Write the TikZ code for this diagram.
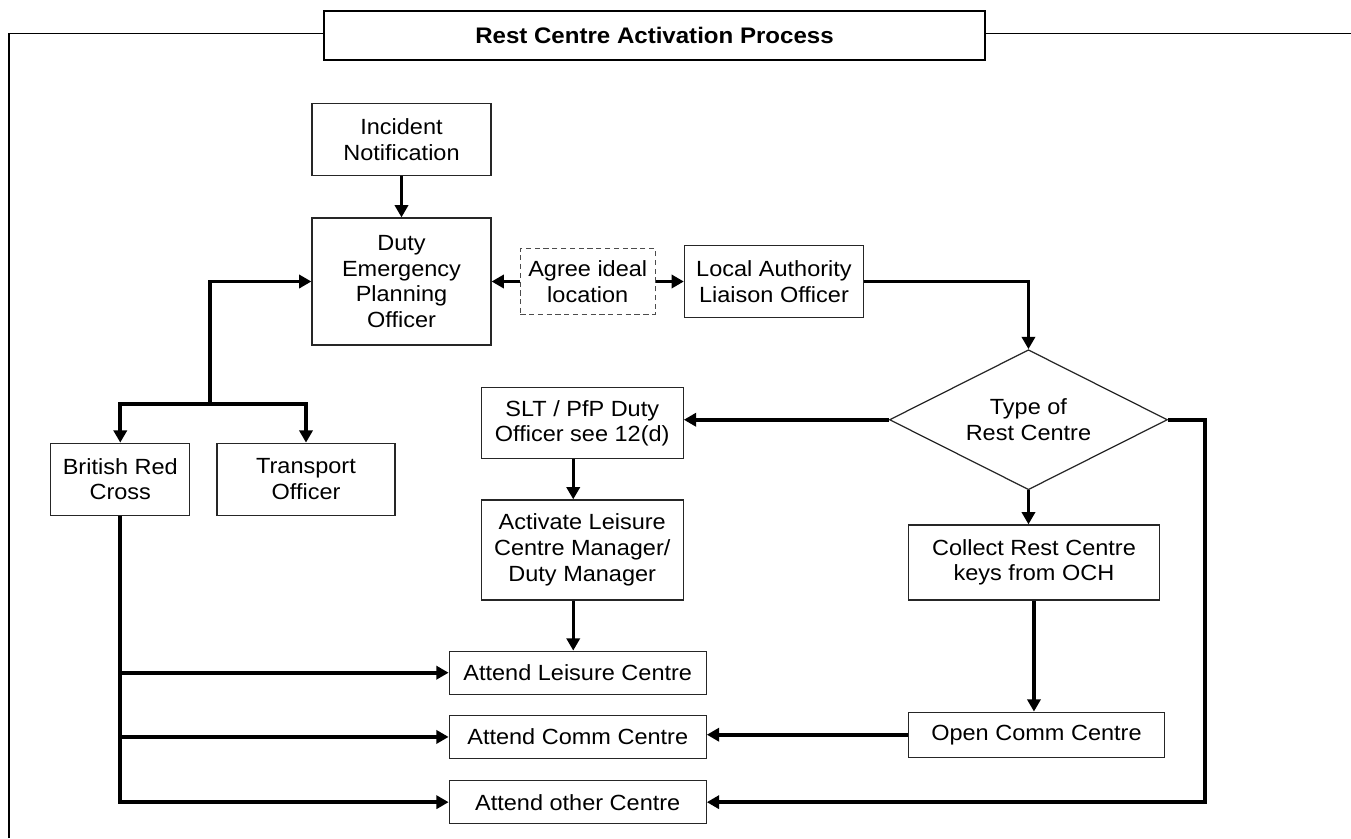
\documentclass[tikz,border=0pt]{standalone}
\usepackage{fontspec}
\setmainfont{Liberation Sans}[FakeStretch=1.07]
\usetikzlibrary{arrows.meta, positioning, shapes.geometric}

\begin{document}
\begin{tikzpicture}[
    font=\fontsize{12.5}{14.6}\selectfont,
    box/.style={rectangle, draw=black!85, line width=0.7pt, align=center, minimum width=3.58cm, minimum height=1.44cm},
    attend/.style={box, minimum width=5.14cm, minimum height=0.86cm},
    talk/.style={box, dash pattern=on 3pt off 2pt, draw=black!70, minimum width=2.7cm, minimum height=1.32cm},
    choice/.style={diamond, draw=black!85, line width=0.7pt, align=center, aspect=2, minimum width=5.56cm, minimum height=2.8cm, inner sep=0pt},
    heading/.style={rectangle, draw, line width=1.4pt, fill=white, font=\fontsize{12.8}{15}\selectfont\bfseries, minimum width=13.22cm, minimum height=0.98cm},
    arrow/.style={-{Triangle[length=7pt, width=7.5pt]}, line width=2.2pt},
    thinarrow/.style={arrow, line width=1.8pt}
]

\useasboundingbox (0,0) rectangle (27.02,-16.76);

% outer frame and heading
\draw[line width=0.9pt] (0.18,-16.76) -- (0.18,-0.67) -- (27.02,-0.67);
\node[heading] (title) at (13.09,-0.71) {Rest Centre Activation Process};

\node[box, minimum height=2.54cm] (depo) at (8.03,-5.63) {Duty\\Emergency\\Planning\\Officer};
\node[box, above=0.82cm of depo] (incident) {Incident\\Notification};
\node[talk, right=0.56cm of depo] (agree) {Agree ideal\\location};
\node[box, right=0.56cm of agree] (lalo) {Local Authority\\Liaison Officer};
\node[choice, below=0.62cm of lalo, xshift=5.09cm] (type) {Type of\\Rest Centre};

\node[box, minimum width=4.04cm, minimum height=1.42cm, left=4.1cm of type, yshift=-0.07cm] (slt) {SLT / PfP Duty\\Officer see 12(d)};
\node[box, minimum width=4.04cm, minimum height=2cm, below=0.8cm of slt] (activate) {Activate Leisure\\Centre Manager/\\Duty Manager};
\node[attend, below=1cm of activate, xshift=-0.09cm] (leisure) {Attend Leisure Centre};
\node[attend, below=0.4cm of leisure] (comm) {Attend Comm Centre};
\node[attend, below=0.42cm of comm] (other) {Attend other Centre};

\node[box, minimum width=5.02cm, minimum height=1.5cm, below=0.68cm of type, xshift=0.11cm] (keys) {Collect Rest Centre\\keys from OCH};
\node[box, minimum width=5.12cm, minimum height=0.9cm, below=2.22cm of keys, xshift=0.05cm] (open) {Open Comm Centre};

\node[box, minimum width=3.56cm, below=1.94cm of depo, xshift=-1.91cm] (transport) {Transport\\Officer};
\node[box, minimum width=2.78cm, left=0.52cm of transport] (redcross) {British Red\\Cross};

\coordinate (fork) at ([xshift=0.4cm, yshift=0.78cm]redcross.north east);
\coordinate (bend) at ([xshift=0.74cm]type.east);

\draw[arrow] (incident) -- (depo);
\draw[arrow] (agree.west) -- (agree.west -| depo.east);
\draw[arrow] (agree.east) -- (agree.east -| lalo.west);
\draw[arrow] (lalo.east) -| (type.north);
\draw[arrow] (type.west) -- (type.west -| slt.east);
\draw[thinarrow] ([xshift=-0.18cm]slt.south) -- ([xshift=-0.18cm]slt.south |- activate.north);
\draw[thinarrow] ([xshift=-0.18cm]activate.south) -- ([xshift=-0.18cm]activate.south |- leisure.north);
\draw[arrow] (type.south) -- (type.south |- keys.north);
\draw[arrow] (keys.south) -- (keys.south |- open.north);
\draw[arrow] (open.west) -- (open.west -| comm.east);
\draw[arrow] (type.east) -- (bend) |- (other.east);

\draw[arrow] (fork) |- (depo.west);
\draw[arrow] (fork) -| (redcross.north);
\draw[arrow] (fork) -| (transport.north);
\draw[arrow] (redcross.south) |- (leisure.west);
\draw[arrow] (redcross.south) |- (comm.west);
\draw[arrow] (redcross.south) |- (other.west);

\end{tikzpicture}
\end{document}
